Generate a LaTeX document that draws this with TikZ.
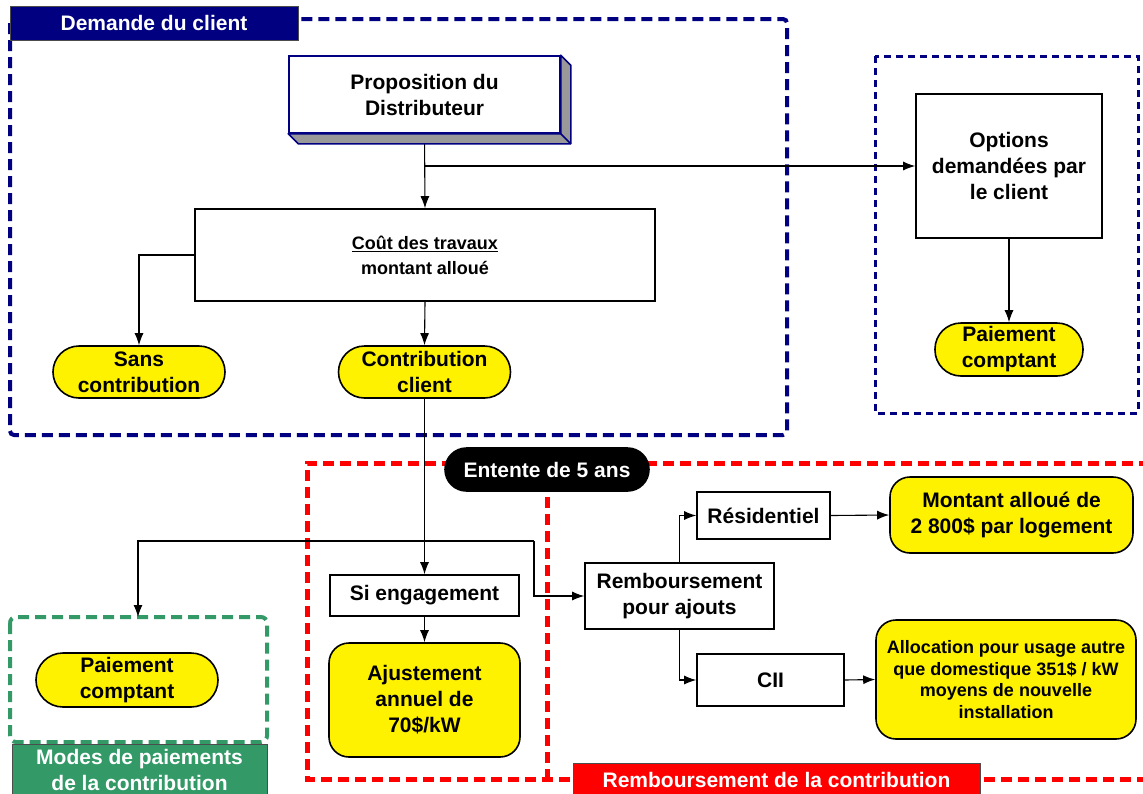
\documentclass[tikz,border=0pt]{standalone}
\usepackage{fontspec}
\setmainfont{Liberation Sans}
\usetikzlibrary{arrows.meta}
\definecolor{bleufonce}{RGB}{0,0,128}
\definecolor{vertmode}{RGB}{51,153,102}
\definecolor{grisombre}{RGB}{153,153,153}
\tikzset{
  boite/.style={rectangle,draw=black,line width=1.6pt,fill=white,align=center,inner sep=0pt,
    font=\fontsize{21}{26}\selectfont\bfseries},
  ovale/.style={rectangle,draw=black,line width=1.6pt,fill=yellow,align=center,inner sep=0pt,
    rounded corners=#1,font=\fontsize{21}{26}\selectfont\bfseries},
  ovale/.default=20pt,
  titre/.style={rectangle,draw=black!70,line width=0.8pt,text=white,align=center,inner sep=0pt,
    font=\fontsize{21}{26}\selectfont\bfseries},
  fleche/.style={line width=1.1pt,-{Latex[length=12pt,width=9pt]}},
  cadrebleu/.style={draw=bleufonce,line width=4pt,dash pattern=on 11pt off 6pt},
  cadrerouge/.style={draw=red,line width=5pt,dash pattern=on 11pt off 6pt},
  cadrevert/.style={draw=vertmode,line width=4pt,dash pattern=on 11pt off 6pt,rounded corners=6pt}
}

\begin{document}
\begin{tikzpicture}[x=1pt,y=-1pt]
\useasboundingbox (0,0) rectangle (1143,793);
% cadres
\draw[cadrebleu,rounded corners=4pt] (10,19) rectangle (787,435);
\draw[cadrebleu,line width=3pt,dash pattern=on 7pt off 5pt] (875,56) rectangle (1138,413);
\draw[cadrevert] (10,617) rectangle (267,742);
\draw[cadrerouge] (1150,463) -- (307,463) -- (307,779) -- (1150,779);
\draw[cadrerouge] (547,480) -- (547,779);

\path (154,23) node(tdemande)[titre,fill=bleufonce,minimum width=288pt,minimum height=34pt]{Demande du client}
(424.5,94.5) node(prop)[boite,draw=bleufonce,minimum width=271pt,minimum height=77pt]{Proposition du\\Distributeur}
(425,255) node(cout)[boite,minimum width=460pt,minimum height=92pt,font=\fontsize{18}{25}\selectfont\bfseries]{\underline{Coût des travaux}\\montant alloué}
(139,372) node(sans)[ovale=26pt,minimum width=172pt,minimum height=52pt]{Sans\\contribution}
(424.5,372) node(contrib)[ovale=26pt,minimum width=172pt,minimum height=52pt]{Contribution\\client}
(1009,166) node(opts)[boite,minimum width=186pt,minimum height=144pt]{Options\\demandées par\\le client}
(1009,349.5) node(pay1)[ovale=26pt,minimum width=148pt,minimum height=53pt]{Paiement\\comptant}
(547,469.5) node(entente)[ovale=21.5pt,fill=black,text=white,minimum width=204pt,minimum height=43pt]{Entente de 5 ans}
(424.5,595.5) node(sieng)[boite,minimum width=189pt,minimum height=41pt]{Si engagement}
(424.5,700) node(ajust)[ovale=20pt,minimum width=191pt,minimum height=114pt]{Ajustement\\annuel de\\70\$/kW}
(679.5,596) node(remb)[boite,minimum width=189pt,minimum height=66pt]{Remboursement\\pour ajouts}
(763.5,515.5) node(resid)[boite,minimum width=133pt,minimum height=47pt]{Résidentiel}
(770.5,680) node(cii)[boite,minimum width=147pt,minimum height=52pt]{CII}
(1011.5,515) node(montant)[ovale=20pt,minimum width=243pt,minimum height=76pt]{Montant alloué de\\2 800\$ par logement}
(1006,679.5) node(alloc)[ovale=20pt,minimum width=260pt,minimum height=119pt,font=\fontsize{18}{21.7}\selectfont\bfseries]{Allocation pour usage autre\\que domestique 351\$ / kW\\moyens de nouvelle\\installation}
(127,680) node(pay2)[ovale=27pt,minimum width=182pt,minimum height=54pt]{Paiement\\comptant}
(139.5,770) node(tmodes)[titre,fill=vertmode,minimum width=255pt,minimum height=52pt]{Modes de paiements\\de la contribution}
(776.5,779.5) node(tremb)[titre,fill=red,minimum width=407pt,minimum height=33pt]{Remboursement de la contribution};

\coordinate (coude) at (534,541);
\coordinate (modes) at (138,617);
\draw[fleche](prop.south)--(cout.north);
\draw[fleche](prop.south |- opts.west)--(opts.west);
\draw[fleche](cout.west)-|(sans.north);
\draw[fleche](cout.south)--(contrib.north);
\draw[fleche](opts.south)--(pay1.north);
\draw[fleche](contrib.south)--(sieng.north);
\draw[fleche](sieng.south)--(ajust.north);
\draw[fleche](coude)-|(modes);
\draw[fleche](coude)|-(remb.west);
\draw[fleche](remb.north)|-(resid.west);
\draw[fleche](remb.south)|-(cii.west);
\draw[fleche](resid.east)--(montant.west);
\draw[fleche](cii.east)--(alloc.west);

% relief de la proposition
\filldraw[fill=grisombre,draw=bleufonce,line width=1.6pt,line join=round](prop.south west)--++(10,10)-|([shift={(10,10)}]prop.north east)--(prop.north east)--(prop.south east)--cycle;
\draw[bleufonce,line width=1.6pt](prop.south east)--++(10,10);
\end{tikzpicture}
\end{document}
